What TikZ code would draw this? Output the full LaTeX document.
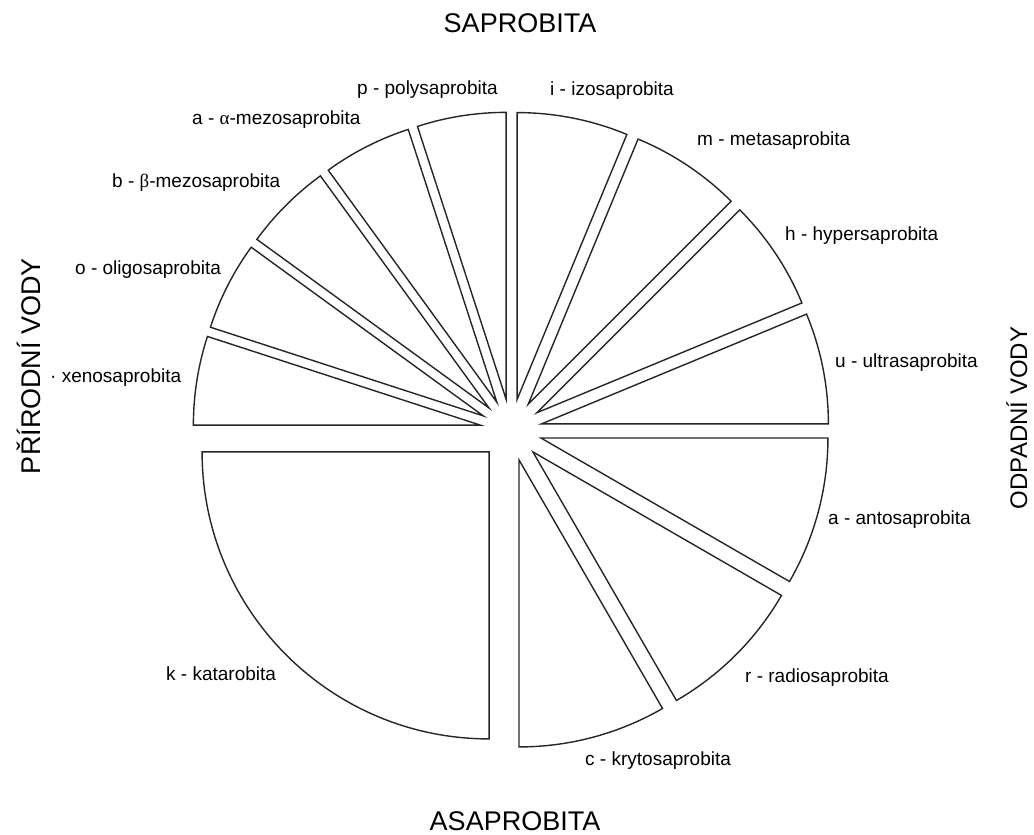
\documentclass[tikz,border=0pt]{standalone}
\usepackage{fontspec}
\setmainfont{Liberation Sans}
\newfontfamily\grk{Liberation Serif}
\begin{document}
\begin{tikzpicture}[x=1pt,y=1pt,
  sector/.style={draw=black!85, line width=1.4pt, line join=miter},
  lbl/.style={anchor=mid west, inner sep=0pt, font=\fontsize{19}{22}\selectfont},
  ttl/.style={anchor=base, inner sep=0pt, font=\fontsize{27}{30}\selectfont}]
\useasboundingbox (0,0) rectangle (1034,835);
\coordinate (C) at (511,405);
\foreach \a/\b in {0/22.5,22.5/45,45/67.5,67.5/90,90/108,108/126,126/144,144/162,162/180,180/270,270/300,300/330,330/360}{
  \pgfmathsetmacro\m{(\a+\b)/2}
  \draw[sector, shift={(511,405)}] (\m:31) -- ++(\a:287pt) arc[start angle=\a, end angle=\b, radius=287pt] -- cycle;
}
\node[ttl] (top) at (520,802) {SAPROBITA};
\node[ttl] (bottom) at (515,4) {ASAPROBITA};
\node[ttl, rotate=90] (left) at (40,469) {PŘÍRODNÍ VODY};
\node[ttl, rotate=90, font=\fontsize{24}{28}\selectfont] (right) at (1027,417) {ODPADNÍ VODY};
\node[lbl] (p) at (357,743) {p - polysaprobita};
\node[lbl] (al) at (192,713) {a - {\grk α}-mezosaprobita};
\node[lbl] (be) at (112,650) {b - {\grk β}-mezosaprobita};
\node[lbl] (o) at (75,563) {o - oligosaprobita};
\node[lbl] (x) at (50,455) {· xenosaprobita};
\node[lbl] (i) at (550,742) {i - izosaprobita};
\node[lbl] (m) at (697,692) {m - metasaprobita};
\node[lbl] (h) at (785,597) {h - hypersaprobita};
\node[lbl] (u) at (835,470) {u - ultrasaprobita};
\node[lbl] (an) at (828,313) {a - antosaprobita};
\node[lbl] (r) at (745,155) {r - radiosaprobita};
\node[lbl] (c) at (585,72) {c - krytosaprobita};
\node[lbl] (k) at (166,157) {k - katarobita};
\end{tikzpicture}
\end{document}
